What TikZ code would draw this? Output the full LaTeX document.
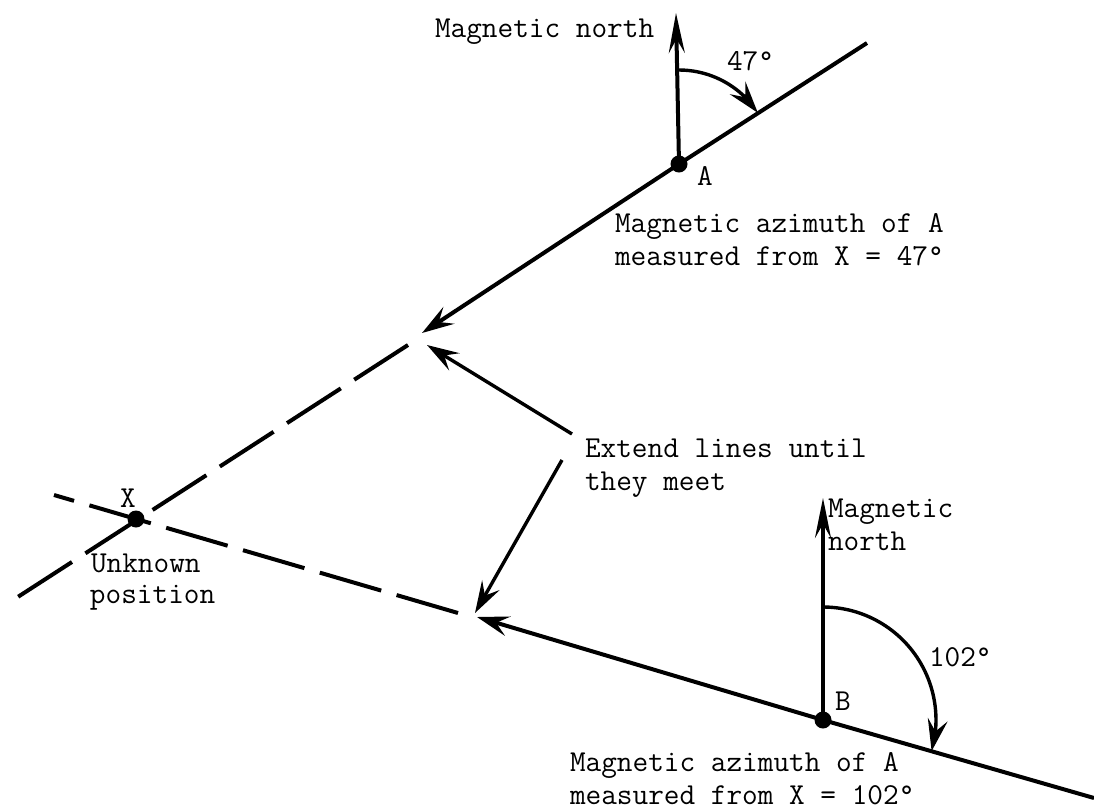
\documentclass[tikz,border=0pt]{standalone}
\usetikzlibrary{arrows.meta,bending}
\begin{document}
\begin{tikzpicture}[x=0.5pt,y=-0.5pt,
  every node/.style={inner sep=0pt, outer sep=0pt, font=\fontsize{15.2}{16.5}\selectfont\ttfamily},
  lbl/.style={anchor=base west},
  dot/.style={circle, fill=black, minimum size=8.5pt},
  main/.style={line width=2pt},
  thinline/.style={line width=1.7pt},
  tip/.style={-{Stealth[length=16pt,width=10pt,inset=6pt]}},
  northtip/.style={-{Stealth[length=20pt,width=8pt,inset=7pt]}},
  dashline/.style={line width=2pt, dash pattern=on 32pt off 8pt},
]
\useasboundingbox (0,0) rectangle (1094,810);

% points
\node[dot] (A) at (679,164) {};
\node[dot] (B) at (823,720) {};
\node[dot] (X) at (136,519) {};
\coordinate (T) at (867,43);
\coordinate (P1) at (422,333);
\coordinate (Q1) at (408,345);
\coordinate (E1) at (10,602);
\coordinate (R) at (1094,798);
\coordinate (P2) at (477,617);
\coordinate (Q2) at (458,613);
\coordinate (E2) at (54,495);
\coordinate (NA) at (676,13);
\coordinate (NB) at (823,498);
\coordinate (EXa) at (572,434);
\coordinate (EXb) at (562,460);
\coordinate (EXta) at (427,345);
\coordinate (EXtb) at (475,613);

% lines
\draw[main] (A.center) -- (T);
\draw[main,tip] (A.center) -- (P1);
\draw[dashline] (Q1) -- (E1);
\draw[main] (B.center) -- (R);
\draw[main,tip] (B.center) -- (P2);
\draw[dashline] (Q2) -- (E2);
\draw[main,northtip] (A.center) -- (NA);
\draw[main,northtip] (B.center) -- (NB);
\draw[thinline,tip] (A.center) ++(0,-94) arc[start angle=-90,end angle=-33,radius=94];
\draw[thinline,tip] (B.center) ++(0,-113) arc[start angle=-90,end angle=16,radius=113];
\draw[thinline,tip] (EXa) -- (EXta);
\draw[thinline,tip] (EXb) -- (EXtb);

% labels
\node[lbl] (mnA) at (435,37) {Magnetic north};
\node[lbl] (aA) at (727,70) {47°};
\node[lbl] (lA) at (697,185) {A};
\node[lbl] (azA1) at (615,232) {Magnetic azimuth of A};
\node[lbl] (azA2) at (615,265) {measured from X = 47°};
\node[lbl] (ext1) at (585,457) {Extend lines until};
\node[lbl] (ext2) at (585,490) {they meet};
\node[lbl] (lX) at (120,507) {X};
\node[lbl] (unk1) at (91,572) {Unknown};
\node[lbl] (unk2) at (90,603) {position};
\node[lbl] (mnB1) at (828,517) {Magnetic};
\node[lbl] (mnB2) at (828,550) {north};
\node[lbl] (lB) at (835,710) {B};
\node[lbl] (aB) at (929,666) {102°};
\node[lbl] (azB1) at (570,771) {Magnetic azimuth of A};
\node[lbl] (azB2) at (570,804) {measured from X = 102°};
\end{tikzpicture}
\end{document}
